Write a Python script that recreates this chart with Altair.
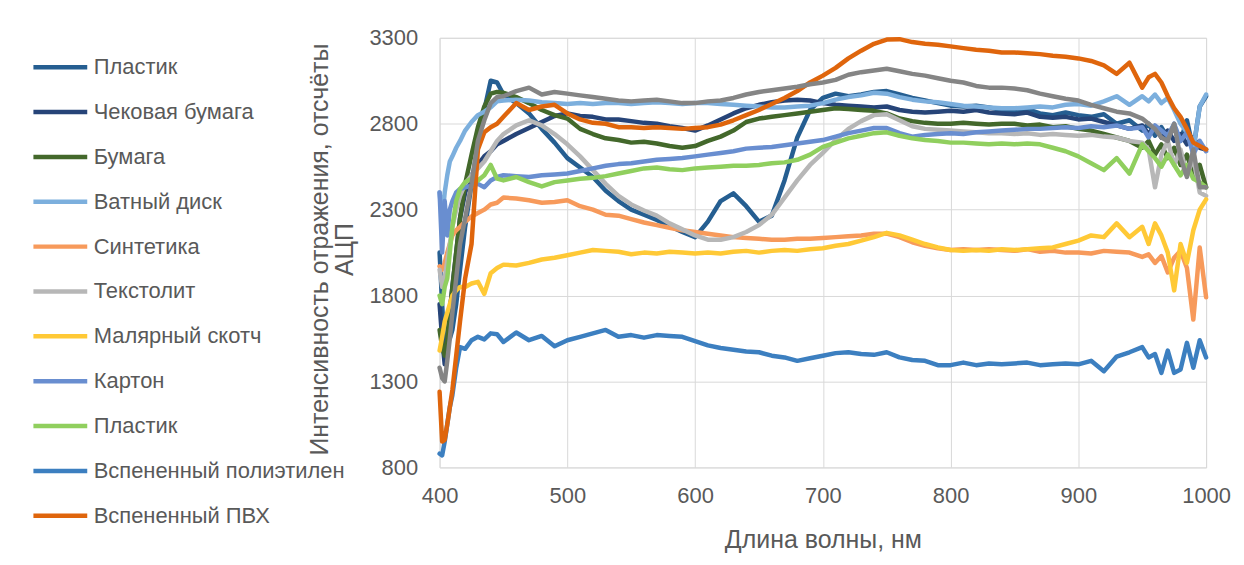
import altair as alt
import pandas as pd

wavelength = [400, 402, 404, 406, 408, 410, 413, 416, 420, 425, 430, 435, 440, 445, 450,
              460, 470, 480, 490, 500, 510, 520, 530, 540, 550, 560, 570, 580, 590, 600,
              610, 620, 630, 640, 650, 660, 670, 680, 690, 700, 710, 720, 730, 740, 750,
              760, 770, 780, 790, 800, 810, 820, 830, 840, 850, 860, 870, 880, 890, 900,
              910, 920, 930, 940, 950, 955, 960, 965, 970, 975, 980, 985, 990, 995, 1000]

plastic_1 = [2050, 1750, 1450, 1550, 1550, 1600, 1750, 1950, 2200, 2450, 2680, 2880, 3050, 3040, 2970,
             2920, 2860, 2770, 2690, 2600, 2545, 2490, 2410, 2350, 2300, 2270, 2240, 2205, 2170, 2140,
             2230, 2350, 2395, 2320, 2230, 2265, 2470, 2720, 2880, 2950, 2975, 2960, 2970, 2985, 2990,
             2970, 2950, 2935, 2920, 2905, 2900, 2905, 2895, 2880, 2870, 2885, 2860, 2850, 2865, 2850,
             2840, 2855, 2800, 2820, 2760, 2800, 2730, 2780, 2720, 2780, 2700, 2820, 2650, 2900, 2960]

receipt_paper = [1750, 1550, 1400, 1500, 1700, 1850, 2050, 2250, 2400, 2500, 2560, 2610, 2640, 2680, 2700,
                 2740, 2775, 2810, 2845, 2860, 2845, 2840, 2825, 2825, 2815, 2805, 2800, 2785, 2775, 2760,
                 2790, 2825, 2860, 2890, 2910, 2925, 2935, 2940, 2935, 2920, 2910, 2905, 2900, 2895, 2900,
                 2880, 2870, 2865, 2870, 2875, 2870, 2880, 2865, 2860, 2855, 2865, 2840, 2835, 2840, 2825,
                 2830, 2810, 2790, 2770, 2790, 2740, 2780, 2720, 2760, 2700, 2740, 2680, 2720, 2660, 2650]

paper = [1600, 1500, 1450, 1550, 1700, 1850, 2050, 2250, 2450, 2620, 2780, 2900, 2975, 2985, 2980,
         2955, 2920, 2880, 2850, 2830, 2770, 2740, 2715, 2705, 2690, 2695, 2685, 2670, 2660, 2670,
         2700, 2725, 2760, 2810, 2830, 2840, 2850, 2860, 2870, 2880, 2890, 2885, 2880, 2875, 2860,
         2830, 2815, 2805, 2800, 2800, 2805, 2800, 2795, 2800, 2800, 2790, 2795, 2780, 2785, 2770,
         2760, 2740, 2720, 2700, 2660, 2700, 2620, 2680, 2600, 2660, 2560, 2620, 2500, 2560, 2430]

cotton_pad = [2400, 2250, 2400, 2500, 2580, 2610, 2660, 2700, 2760, 2810, 2850, 2870, 2895, 2930, 2935,
              2940, 2935, 2925, 2920, 2915, 2920, 2915, 2920, 2920, 2915, 2920, 2925, 2920, 2915, 2920,
              2920, 2915, 2910, 2905, 2900, 2895, 2895, 2900, 2905, 2920, 2940, 2955, 2965, 2980, 2975,
              2955, 2940, 2930, 2925, 2915, 2905, 2900, 2895, 2890, 2890, 2895, 2900, 2895, 2910, 2915,
              2905, 2930, 2960, 2910, 2960, 2930, 2970, 2920, 2950, 2880, 2800, 2750, 2650, 2900, 2970]

synthetics = [1970, 1950, 1990, 2050, 2100, 2150, 2180, 2200, 2230, 2260, 2280, 2300, 2330, 2340, 2370,
              2365, 2355, 2340, 2345, 2355, 2320, 2300, 2270, 2265, 2245, 2225, 2210, 2195, 2180, 2170,
              2160, 2150, 2140, 2135, 2130, 2125, 2125, 2130, 2130, 2135, 2140, 2145, 2150, 2160, 2160,
              2140, 2110, 2090, 2075, 2065, 2070, 2065, 2070, 2065, 2060, 2070, 2055, 2060, 2050, 2050,
              2045, 2060, 2055, 2050, 2025, 2040, 1990, 2030, 1935, 2020, 2060, 1960, 1660, 2080, 1790]

textolite = [1950, 1850, 1900, 2000, 2100, 2200, 2300, 2380, 2450, 2500, 2540, 2580, 2640, 2700, 2740,
             2790, 2820, 2790, 2740, 2680, 2610, 2530, 2450, 2380, 2330, 2295, 2265, 2220, 2185, 2150,
             2125, 2125, 2140, 2170, 2210, 2270, 2370, 2470, 2560, 2630, 2705, 2770, 2815, 2850, 2855,
             2820, 2785, 2770, 2765, 2760, 2755, 2750, 2745, 2745, 2740, 2745, 2735, 2740, 2735, 2730,
             2735, 2725, 2720, 2700, 2690, 2650, 2430, 2620, 2700, 2560, 2650, 2500, 2600, 2400, 2380]

masking_tape = [1480, 1560, 1650, 1700, 1750, 1800, 1830, 1850, 1850, 1870, 1880, 1810, 1930, 1960, 1980,
                1975, 1990, 2010, 2020, 2035, 2050, 2065, 2060, 2055, 2040, 2050, 2045, 2055, 2050, 2045,
                2050, 2045, 2055, 2060, 2050, 2060, 2065, 2060, 2070, 2075, 2090, 2100, 2120, 2140, 2165,
                2150, 2125, 2100, 2080, 2065, 2060, 2065, 2060, 2070, 2065, 2070, 2075, 2080, 2100, 2120,
                2150, 2140, 2220, 2140, 2200, 2100, 2220, 2150, 2050, 1830, 2100, 1990, 2180, 2300, 2360]

cardboard = [2400, 2050, 2350, 2150, 2300, 2350, 2400, 2420, 2430, 2440, 2450, 2430, 2470, 2490, 2500,
             2495, 2490, 2500, 2505, 2510, 2525, 2540, 2555, 2565, 2570, 2580, 2590, 2595, 2600, 2610,
             2620, 2630, 2640, 2655, 2660, 2665, 2675, 2685, 2695, 2705, 2725, 2745, 2760, 2775, 2775,
             2745, 2725, 2735, 2740, 2745, 2740, 2750, 2755, 2760, 2765, 2770, 2770, 2775, 2780, 2775,
             2785, 2780, 2790, 2770, 2780, 2720, 2790, 2760, 2730, 2800, 2700, 2750, 2620, 2700, 2640]

plastic_2 = [1800, 1750, 1850, 1900, 2050, 2200, 2350, 2420, 2460, 2480, 2470, 2500, 2560, 2480, 2470,
             2490, 2460, 2435, 2460, 2470, 2480, 2485, 2495, 2510, 2525, 2540, 2545, 2535, 2530, 2540,
             2545, 2550, 2555, 2555, 2560, 2570, 2575, 2590, 2620, 2665, 2690, 2715, 2730, 2745, 2750,
             2730, 2715, 2705, 2700, 2690, 2690, 2685, 2680, 2685, 2680, 2685, 2680, 2660, 2640, 2610,
             2570, 2530, 2600, 2510, 2680, 2640, 2600, 2550, 2620, 2560, 2500, 2560, 2480, 2460, 2430]

foamed_pe = [880, 870, 950, 1050, 1150, 1220, 1380, 1500, 1490, 1540, 1560, 1545, 1580, 1575, 1530,
             1585, 1540, 1565, 1505, 1540, 1560, 1580, 1600, 1560, 1570, 1555, 1570, 1565, 1560, 1535,
             1510, 1495, 1485, 1475, 1470, 1450, 1440, 1420, 1435, 1450, 1465, 1470, 1460, 1455, 1470,
             1440, 1425, 1420, 1395, 1395, 1410, 1395, 1405, 1400, 1405, 1410, 1395, 1400, 1405, 1400,
             1420, 1360, 1445, 1470, 1500, 1440, 1460, 1350, 1480, 1350, 1370, 1525, 1380, 1540, 1440]

foamed_pvc = [1240, 950, 960, 1050, 1150, 1250, 1450, 1650, 1900, 2100, 2650, 2750, 2780, 2800, 2840,
              2920, 2880, 2900, 2910, 2860, 2825, 2805, 2800, 2780, 2780, 2775, 2780, 2775, 2770, 2775,
              2780, 2795, 2820, 2850, 2880, 2915, 2950, 2990, 3040, 3080, 3125, 3180, 3225, 3265, 3290,
              3292, 3275, 3265, 3260, 3250, 3240, 3230, 3225, 3215, 3215, 3210, 3205, 3195, 3190, 3180,
              3165, 3140, 3090, 3155, 3010, 3070, 3090, 3040, 2960, 2890, 2840, 2770, 2690, 2670, 2650]

unlabeled_gray = [1380, 1320, 1300, 1420, 1550, 1700, 1900, 2100, 2250, 2450, 2700, 2820, 2920, 2955, 2960,
                  2990, 3010, 2970, 2985, 2975, 2965, 2955, 2945, 2935, 2930, 2935, 2940, 2930, 2920, 2920,
                  2930, 2935, 2950, 2970, 2985, 2995, 3005, 3015, 3030, 3040, 3055, 3085, 3100, 3110, 3120,
                  3105, 3090, 3080, 3065, 3050, 3040, 3020, 3010, 3010, 3005, 2995, 2975, 2960, 2945, 2935,
                  2910, 2890, 2870, 2860, 2830, 2800, 2770, 2720, 2700, 2800, 2600, 2490, 2650, 2430, 2430]

series_names = ["Пластик", "Чековая бумага", "Бумага", "Ватный диск", "Синтетика", "Текстолит",
                "Малярный скотч", "Картон", "Пластик", "Вспененный полиэтилен", "Вспененный ПВХ"]
series_keys = ["01", "02", "03", "04", "05", "06", "07", "08", "09", "10", "11"]
series_colors = ["#255E91", "#264478", "#43682B", "#7CAFDD", "#F79A5B", "#B7B7B7",
                 "#FFC936", "#698ED0", "#90CF5E", "#3C7FC0", "#DF650C"]
series_values = [plastic_1, receipt_paper, paper, cotton_pad, synthetics, textolite,
                 masking_tape, cardboard, plastic_2, foamed_pe, foamed_pvc]

x_ticks = [400, 500, 600, 700, 800, 900, 1000]
y_ticks = [800, 1300, 1800, 2300, 2800, 3300]

rows = []
for order, (key, vals) in enumerate(zip(series_keys, series_values)):
    for w, v in zip(wavelength, vals):
        rows.append({"key": key, "wl": w, "val": v, "ord": order})
df = pd.DataFrame(rows)
df_gray = pd.DataFrame({"wl": wavelength, "val": unlabeled_gray})

FONT = "Liberation Sans"
TXT = "#595959"
LW = 4.5
label_expr = "[" + ",".join("'" + n + "'" for n in series_names) + "][toNumber(datum.value) - 1]"

x_enc = alt.X("wl:Q", scale=alt.Scale(domain=[400, 1000], nice=False, zero=False),
              axis=alt.Axis(values=x_ticks, format="d", labelFlush=False,
                            title="Длина волны, нм", grid=True,
                            gridColor="#D9D9D9", domain=False, ticks=False,
                            labelFont=FONT, labelFontSize=22, labelColor=TXT, labelPadding=18,
                            titleFont=FONT, titleFontSize=25, titleColor=TXT,
                            titleFontWeight="normal", titleY=72, titleBaseline="middle"))
y_enc = alt.Y("val:Q", scale=alt.Scale(domain=[800, 3300], nice=False, zero=False),
              axis=alt.Axis(values=y_ticks, format="d", labelFlush=False,
                            title=["Интенсивность отражения, отсчёты", "АЦП"],
                            grid=True, gridColor="#D9D9D9", domain=False, ticks=False,
                            labelFont=FONT, labelFontSize=22, labelColor=TXT, labelPadding=22,
                            titleFont=FONT, titleFontSize=25, titleColor=TXT,
                            titleFontWeight="normal", titleAngle=270, titleX=-132, titleY=212,
                            titleBaseline="top", titleAlign="center", titleLineHeight=25))

lines = alt.Chart(df).mark_line(strokeWidth=LW, strokeJoin="round", strokeCap="round").encode(
    x=x_enc,
    y=y_enc,
    color=alt.Color("key:N",
                    scale=alt.Scale(domain=series_keys, range=series_colors),
                    legend=alt.Legend(title=None, orient="none", legendX=-392, legendY=18,
                                      symbolType="M-3,0H3", symbolSize=324, symbolStrokeWidth=4.5,
                                      labelFont=FONT, labelFontSize=22, labelColor=TXT,
                                      labelOffset=22, rowPadding=22, padding=0, labelLimit=400,
                                      labelExpr=label_expr)),
    order=alt.Order("ord:Q"),
)

gray = alt.Chart(df_gray).mark_line(strokeWidth=LW, strokeJoin="round", strokeCap="round",
                                    color="#858585").encode(x="wl:Q", y="val:Q")

chart = alt.layer(lines, gray).properties(
    width=769, height=431,
    autosize=alt.AutoSizeParams(type="none"),
    padding={"left": 433, "top": 29, "right": 30, "bottom": 90},
).configure_view(strokeWidth=0).configure(background="white")

chart.save("out.html", embed_options={"renderer": "svg", "actions": False})
